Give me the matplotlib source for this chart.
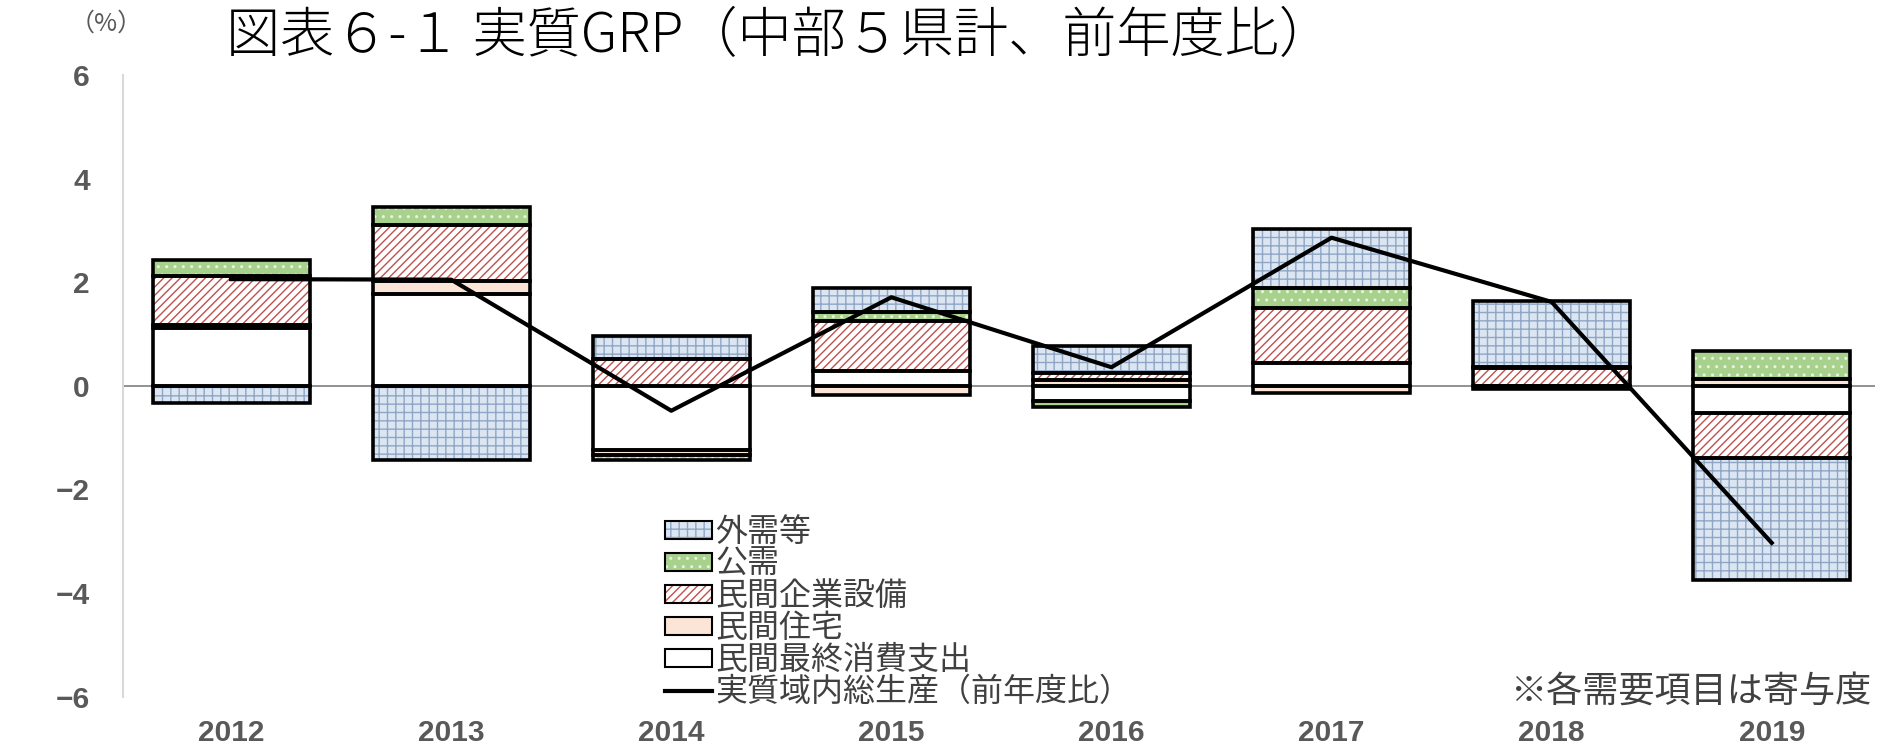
import numpy as np
import matplotlib
matplotlib.use("Agg")
import matplotlib.pyplot as plt

plt.rcParams['font.family'] = ['Noto Sans CJK JP', 'DejaVu Sans']
plt.rcParams['hatch.linewidth'] = 1.0

years = ['2012', '2013', '2014', '2015', '2016', '2017', '2018', '2019']

# 寄与度（%ポイント）
consumption = [1.12, 1.77, -1.23, 0.28, -0.30, 0.44, 0.00, -0.53]   # 民間最終消費支出
housing = [0.06, 0.26, -0.10, -0.17, 0.12, -0.14, -0.06, 0.13]      # 民間住宅
capex = [0.94, 1.07, 0.52, 0.98, 0.13, 1.06, 0.34, -0.86]           # 民間企業設備
public = [0.30, 0.35, -0.11, 0.16, -0.11, 0.39, 0.03, 0.54]         # 公需
external = [-0.34, -1.44, 0.45, 0.46, 0.51, 1.14, 1.27, -2.35]      # 外需等
grp = [2.06, 2.05, -0.48, 1.71, 0.36, 2.86, 1.62, -3.03]            # 実質域内総生産

series = [
    ('民間最終消費支出', consumption, 'white', None, 'white'),
    ('民間住宅', housing, '#fbe5d6', None, '#fbe5d6'),
    ('民間企業設備', capex, 'white', '////', '#c0504d'),
    ('公需', public, '#a9d18e', '..', '#e8f4df'),
    ('外需等', external, '#dce6f2', '++', '#8fa6c4'),
]

fig = plt.figure(figsize=(18.96, 7.5), dpi=100)
ax = fig.add_axes([0.065, 0.071, 0.924, 0.829])

x = np.arange(len(years))
w = 0.714
pos = np.zeros(len(years))
neg = np.zeros(len(years))
handles = {}
for name, vals, fc, hatch, hc in series:
    v = np.array(vals)
    bottom = np.where(v >= 0, pos, neg)
    # 塗り＋ハッチ
    ax.bar(x, v, w, bottom=bottom, color=fc, hatch=hatch, edgecolor=hc, linewidth=0, zorder=2)
    # 枠線
    ax.bar(x, v, w, bottom=bottom, color='none', edgecolor='black', linewidth=2.6, zorder=3)
    pos = np.where(v >= 0, pos + v, pos)
    neg = np.where(v < 0, neg + v, neg)
    handles[name] = plt.Rectangle((0, 0), 1, 1, facecolor=fc, hatch=hatch, edgecolor='black', linewidth=1.5)
    handles[name]._hatch_color = matplotlib.colors.to_rgba(hc if hatch else 'black')

line, = ax.plot(x, grp, color='black', linewidth=3, zorder=4)

ax.axhline(0, color='#7f7f7f', linewidth=1.2, zorder=1)
ax.set_xlim(-0.49, 7.47)
ax.set_ylim(-6, 6)
ax.set_yticks([-6, -4, -2, 0, 2, 4, 6])
ax.set_xticks(x)
ax.set_xticklabels(years)
for s in ['top', 'right', 'bottom']:
    ax.spines[s].set_visible(False)
ax.spines['left'].set_color('#d9d9d9')
ax.spines['left'].set_linewidth(1.5)
ax.tick_params(axis='both', length=0, colors='#595959')
ax.tick_params(axis='y', pad=24)
ax.tick_params(axis='x', pad=16)
for lab in ax.get_xticklabels() + ax.get_yticklabels():
    lab.set_fontfamily(['Liberation Sans', 'DejaVu Sans'])
    lab.set_fontsize(21.5)
    lab.set_fontweight('bold')

order = ['外需等', '公需', '民間企業設備', '民間住宅', '民間最終消費支出']
leg = fig.legend([handles[k] for k in order] + [line],
                 order + ['実質域内総生産（前年度比）'],
                 loc='upper left', bbox_to_anchor=(0.351, 0.312),
                 frameon=False, fontsize=23, labelspacing=0.0,
                 handlelength=1.45, handleheight=0.5, handletextpad=0.12,
                 borderpad=0, borderaxespad=0)
for t in leg.get_texts():
    t.set_color('#404040')

fig.text(0.987, 0.078, '※各需要項目は寄与度', ha='right', va='center',
         fontsize=26, color='#404040')
fig.text(0.056, 0.968, '（%）', ha='center', va='center', fontsize=18, color='#595959')
fig.text(0.411, 0.952, '図表６-１ 実質GRP（中部５県計、前年度比）', ha='center', va='center',
         fontsize=39, fontweight='light', color='black')

fig.savefig('out.png', dpi=100)
